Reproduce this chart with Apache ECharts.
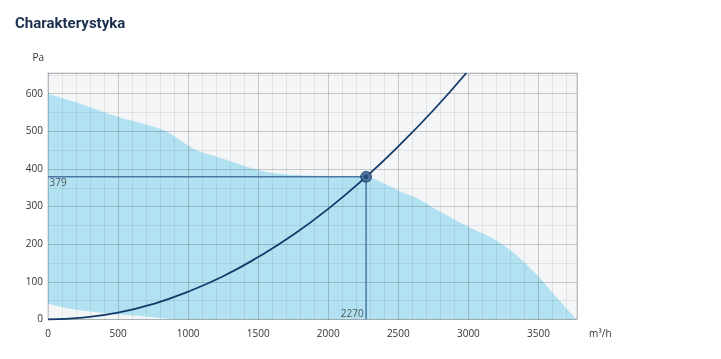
<!DOCTYPE html>
<html>
<head>
<meta charset="utf-8">
<script src="https://cdn.jsdelivr.net/npm/echarts@6/dist/echarts.min.js"></script>
<style>
html,body{margin:0;padding:0;background:#fff;}
#c{width:721px;height:359px;}
</style>
</head>
<body>
<div id="c"></div>
<script>
// ---- data ----
const titleText = 'Charakterystyka';
const xName = 'm³/h';
const yName = 'Pa';
// envelope of the working range (upper edge and lower edge)
const upperX = [0, 200, 500, 700, 850, 940, 1060, 1230, 1420, 1600, 1800, 2000, 2270, 2500, 2650, 2800, 3000, 3130, 3250, 3370, 3490, 3580, 3680, 3772];
const upperY = [600, 577, 538, 518, 499, 477, 450, 430, 406, 389, 383, 381, 379, 343, 319, 286, 246, 224, 198, 162, 118, 80, 38, 0];
const lowerX = [0, 180, 420, 660, 870, 940];
const lowerY = [42, 27, 16, 9, 1, 0];
// system curve
const sysX = [0, 250, 500, 750, 1000, 1250, 1500, 1750, 2000, 2270, 2500, 2750, 2985];
const sysY = [0, 5, 18, 41, 74, 115, 166, 225, 294, 379, 460, 556, 655];
// operating point
const opFlow = 2270;
const opPressure = 379;
// axes
const xMin = 0, xMax = 3775, xMajor = 500, xMinor = 100;
const yMin = 0, yMax = 655, yMajor = 100, yMinor = 50;

const chart = echarts.init(document.getElementById('c'), null, {renderer: 'canvas'});
const font = '"Open Sans", "Noto Sans", sans-serif';
const plotBg = '#f4f5f7';

const upperData = upperX.map((x, i) => [x, upperY[i]]);
const lowerData = lowerX.map((x, i) => [x, lowerY[i]]);
const sysData = sysX.map((x, i) => [x, sysY[i]]);

const option = {
  animation: false,
  backgroundColor: '#ffffff',
  title: {
    text: titleText,
    left: 10, top: 12,
    textStyle: {fontFamily: 'Roboto, "Open Sans", sans-serif', fontSize: 15, fontWeight: 700, color: '#1b2f4f'}
  },
  grid: {
    left: 48, top: 73, width: 529, height: 246.5,
    show: true, backgroundColor: plotBg, borderColor: '#c9cbcf', borderWidth: 1,
    containLabel: false, outerBoundsMode: 'none'
  },
  xAxis: [
    {
      type: 'value', min: xMin, max: xMax, interval: xMajor, z: 11,
      name: xName, nameLocation: 'end', nameGap: 12,
      nameTextStyle: {fontFamily: font, fontSize: 10, color: '#333', verticalAlign: 'top', padding: [10, 0, 0, 0]},
      axisLine: {show: false}, axisTick: {show: false},
      axisLabel: {fontFamily: font, fontSize: 10, color: '#333', margin: 10,
        formatter: v => (v % xMajor === 0 ? String(v) : '')},
      splitLine: {show: true, lineStyle: {color: 'rgba(0,0,0,0.12)', width: 1}}
    },
    {
      type: 'value', min: xMin, max: xMax, interval: xMinor, z: 10, position: 'bottom',
      axisLine: {show: false}, axisTick: {show: false}, axisLabel: {show: false},
      splitLine: {show: true, lineStyle: {color: 'rgba(0,0,0,0.07)', width: 1}}
    }
  ],
  yAxis: [
    {
      type: 'value', min: yMin, max: yMax, interval: yMajor, z: 11,
      name: yName, nameLocation: 'end', nameGap: 10,
      nameTextStyle: {fontFamily: font, fontSize: 10, color: '#333', align: 'right', padding: [0, 4, 0, 0]},
      axisLine: {show: false}, axisTick: {show: false},
      axisLabel: {fontFamily: font, fontSize: 10, color: '#333', margin: 5,
        formatter: v => (v % yMajor === 0 ? String(v) : '')},
      splitLine: {show: true, lineStyle: {color: 'rgba(0,0,0,0.12)', width: 1}}
    },
    {
      type: 'value', min: yMin, max: yMax, interval: yMinor, z: 10, position: 'left',
      axisLine: {show: false}, axisTick: {show: false}, axisLabel: {show: false},
      splitLine: {show: true, lineStyle: {color: 'rgba(0,0,0,0.07)', width: 1}}
    }
  ],
  series: [
    {
      type: 'line', data: upperData, smooth: 0.25,
      symbol: 'none', lineStyle: {width: 0}, silent: true, z: 2,
      areaStyle: {color: '#b2e2f2', opacity: 1}
    },
    {
      type: 'line', data: lowerData, smooth: 0.3,
      symbol: 'none', lineStyle: {width: 0}, silent: true, z: 3,
      areaStyle: {color: plotBg, opacity: 1}
    },
    {
      type: 'line', data: [[0, opPressure], [opFlow, opPressure], [opFlow, 0]],
      symbol: 'none', lineStyle: {color: '#4a78a6', width: 1.5}, z: 20
    },
    {
      type: 'line', data: sysData, smooth: true, symbol: 'none',
      lineStyle: {color: '#123a6b', width: 1.8}, z: 21
    },
    {
      type: 'scatter', symbolSize: 1, itemStyle: {color: 'transparent'}, z: 22,
      data: [
        {value: [0, opPressure], label: {show: true, position: 'right', distance: 1, offset: [0, 6],
          formatter: p => String(p.value[1])}},
        {value: [opFlow, 0], label: {show: true, position: 'left', distance: 2, offset: [0, -5],
          formatter: p => String(p.value[0])}}
      ],
      label: {fontFamily: font, fontSize: 10, color: '#333'}
    },
    {
      type: 'scatter', data: [[opFlow, opPressure]], symbolSize: 12,
      itemStyle: {color: '#1c4270'}, z: 23
    },
    {
      type: 'scatter', data: [[opFlow, opPressure]], symbolSize: 8,
      itemStyle: {color: '#5a82ad'}, z: 24
    },
    {
      type: 'scatter', data: [[opFlow, opPressure]], symbolSize: 5,
      itemStyle: {color: '#1c4270'}, z: 25
    }
  ]
};
chart.setOption(option);
</script>
</body>
</html>
